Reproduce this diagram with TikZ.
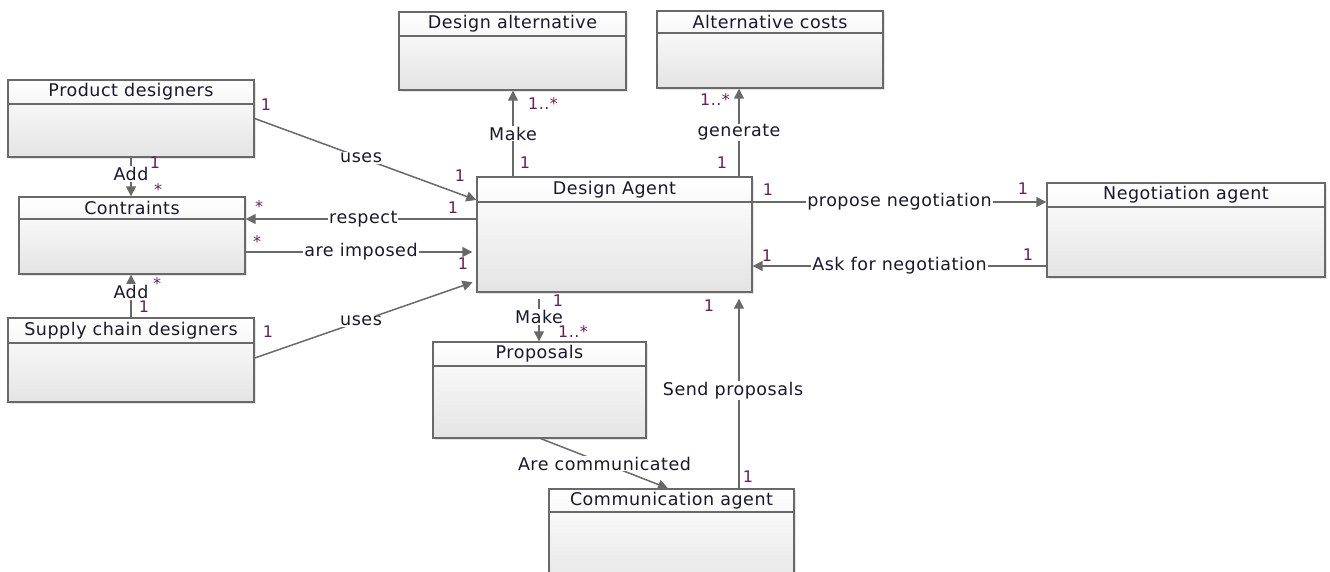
\documentclass[tikz,border=0pt]{standalone}
\usepackage{fontspec}
\setmainfont{DejaVu Sans}[LetterSpace=3]
\usetikzlibrary{arrows.meta,shadows,calc}
\definecolor{linec}{RGB}{105,105,105}
\definecolor{boxc}{RGB}{105,105,105}
\definecolor{multc}{RGB}{105,30,90}
\definecolor{boxbot}{RGB}{228,228,228}
\definecolor{txtc}{RGB}{25,25,45}
\tikzset{
 umlbox/.style={draw=boxc, line width=1.4pt, top color=white, bottom color=boxbot, inner sep=0pt,
   drop shadow={shadow xshift=2pt,shadow yshift=-2pt,opacity=.2}},
 title/.style={font=\fontsize{17.5}{19}\selectfont, text=txtc, inner sep=0pt},
 conn/.style={draw=linec, line width=1.5pt, -{Triangle[length=10pt,width=10pt]}},
 lbl/.style={fill=white, font=\fontsize{17.5}{19}\selectfont, text=txtc, inner sep=1pt},
 mult/.style={font=\fontsize{16}{18}\selectfont, text=multc, inner sep=0pt},
}
\newcommand{\umlclass}[7]{%
 \node[umlbox, minimum width={(#4)*1pt-(#2)*1pt}, minimum height={(#5)*1pt-(#3)*1pt}] (#1) at ({(#2+#4)/2},{(#3+#5)/2}) {};
 \draw[draw=boxc, line width=1.2pt] (#1.west |- 0,#6) -- (#1.east |- 0,#6);
 \node[title] (#1-t) at ({(#2+#4)/2},{(#3+#6)/2}) {#7};
}
\begin{document}
\begin{tikzpicture}[x=1pt,y=-1pt]
\fill[white] (0,0) rectangle (1330,571);
\useasboundingbox (0,0) rectangle (1330,571);
\clip (0,0) rectangle (1330,571);

\umlclass{pd}{8}{80}{254}{157}{104}{Product designers}
\umlclass{ct}{19}{197}{245}{274}{219}{Contraints}
\umlclass{scd}{8}{318}{254}{402}{343}{Supply chain designers}
\umlclass{dalt}{399}{12}{626}{90}{36}{Design alternative}
\umlclass{ac}{657}{11}{883}{88}{33}{Alternative costs}
\umlclass{da}{477}{177}{752}{292}{202}{Design Agent}
\umlclass{na}{1047}{183}{1325}{277}{207}{Negotiation agent}
\umlclass{prop}{433}{342}{646}{438}{366}{Proposals}
\umlclass{ca}{549}{489}{794}{590}{512}{Communication agent}

% connectors
\draw[conn] (pd.east) -- node[lbl,pos=.48]{uses} (da.west |- 0,200);
\draw[conn] (da.west |- 0,219) -- node[lbl,pos=.49]{respect} (ct.east |- 0,219);
\draw[conn,shorten >=4pt] (ct.east |- 0,252) -- node[lbl]{are imposed} (da.west |- 0,252);
\draw[conn,shorten >=4pt] (scd.east |- 0,358) -- node[lbl,pos=.48]{uses} (da.west |- 0,281);
\draw[conn] (pd.south) -- node[lbl,pos=.42]{Add} (pd.south |- ct.north);
\draw[conn] (scd.north) -- node[lbl,pos=.6]{Add} (scd.north |- ct.south);
\draw[conn] (da.north -| 513,0) -- node[lbl]{Make} (dalt.south -| 513,0);
\draw[conn] (da.north -| 739,0) -- node[lbl]{generate} (ac.south -| 739,0);
\draw[conn] (da.east |- 0,202) -- node[lbl]{propose negotiation} (na.west |- 0,202);
\draw[conn] (na.west |- 0,266) -- node[lbl]{Ask for negotiation} (da.east |- 0,266);
\draw[conn,shorten <=6pt] (da.south -| 539,0) -- node[lbl]{Make} (prop.north -| 539,0);
\draw[conn] (prop.south -| 541,0) -- node[lbl]{Are communicated} (ca.north -| 668,0);
\draw[conn,shorten >=6pt] (ca.north -| 739,0) -- node[lbl,xshift=-6pt]{Send proposals} (da.south -| 739,0);

% multiplicities
\node[mult] at (266,105) {1};
\node[mult] at (460,176) {1};
\node[mult] at (259,207) {*};
\node[mult] at (453,208) {1};
\node[mult] at (257,242) {*};
\node[mult] at (463,264) {1};
\node[mult] at (268,332) {1};
\node[mult] at (155,163) {1};
\node[mult] at (158,190) {*};
\node[mult] at (157,284) {*};
\node[mult] at (144,307) {1};
\node[mult] at (543,104) {1..*};
\node[mult] at (525,163) {1};
\node[mult] at (715,100) {1..*};
\node[mult] at (722,163) {1};
\node[mult] at (768,190) {1};
\node[mult] at (1023,189) {1};
\node[mult] at (767,256) {1};
\node[mult] at (1028,255) {1};
\node[mult] at (558,301) {1};
\node[mult] at (573,332) {1..*};
\node[mult] at (748,477) {1};
\node[mult] at (709,306) {1};
\end{tikzpicture}
\end{document}
